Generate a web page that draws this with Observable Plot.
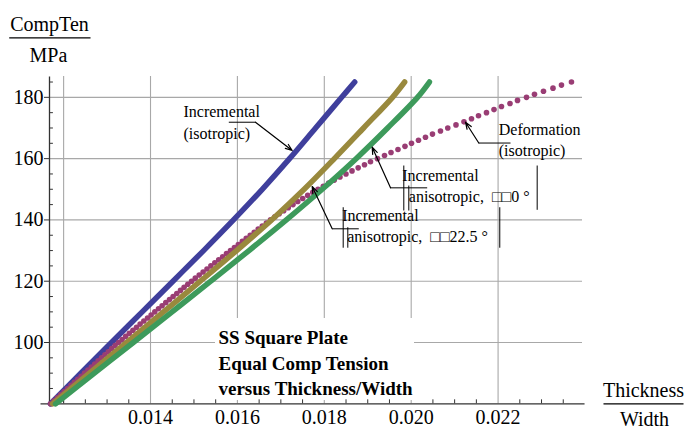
<!DOCTYPE html>
<html><head><meta charset="utf-8">
<script src="https://cdn.jsdelivr.net/npm/d3@7"></script>
<script src="https://cdn.jsdelivr.net/npm/@observablehq/plot@0.6"></script>
<style>body{margin:0;background:#fff} svg text{font-family:'Liberation Serif', serif;}</style>
</head><body><div id="chart"></div>
<script>
// ---- data ----
const compTenSteps = [80, 90, 100, 110, 120, 130, 140, 150, 160, 170, 180, 185];
const incIsoThick = [0.011698, 0.012396, 0.013101, 0.013809, 0.014517, 0.015222, 0.015910, 0.016572, 0.017200, 0.017800, 0.018400, 0.018700];
const incAniso22Thick = [0.011745, 0.012595, 0.013447, 0.014299, 0.015147, 0.015982, 0.016787, 0.017537, 0.018232, 0.018904, 0.019570, 0.019850];
const incAniso0Thick = [0.011814, 0.012709, 0.013604, 0.014497, 0.015387, 0.016267, 0.017127, 0.017952, 0.018732, 0.019457, 0.020145, 0.020420];

const defIsoComp = [80,81,82,83,84,85,86,87,88,89,90,91,92,93,94,95,96,97,98,99,100,101,102,103,104,105,106,107,108,109,110,111,112,113,114,115,116,117,118,119,120,121,122,123,124,125,126,127,128,129,130,131,132,133,134,135,136,137,138,139,140,141,142,143,144,145,146,147,148,149,150,151,152,153,154,155,156,157,158,159,160,161,162,163,164,165,166,167,168,169,170,171,172,173,174,175,176,177,178,179,180,181,182,183,184,185];
const defIsoThick = [
 0.011699,0.011777,0.011855,0.011933,0.012012,0.012090,0.012168,0.012246,0.012325,0.012403,
 0.012481,0.012559,0.012638,0.012716,0.012794,0.012872,0.012951,0.013029,0.013107,0.013185,
 0.013264,0.013346,0.013429,0.013512,0.013595,0.013678,0.013761,0.013846,0.013931,0.014014,
 0.014099,0.014184,0.014267,0.014352,0.014437,0.014520,0.014605,0.014690,0.014773,0.014858,
 0.014944,0.015031,0.015121,0.015211,0.015300,0.015390,0.015480,0.015570,0.015660,0.015749,
 0.015841,0.015931,0.016021,0.016113,0.016203,0.016295,0.016387,0.016479,0.016573,0.016667,
 0.016762,0.016861,0.016962,0.017066,0.017171,0.017280,0.017390,0.017503,0.017618,0.017735,
 0.017855,0.017977,0.018101,0.018230,0.018361,0.018499,0.018638,0.018780,0.018925,0.019063,
 0.019224,0.019386,0.019535,0.019696,0.019857,0.020007,0.020168,0.020329,0.020490,0.020674,
 0.020842,0.021031,0.021215,0.021388,0.021549,0.021733,0.021906,0.022078,0.022274,0.022447,
 0.022654,0.022838,0.023045,0.023264,0.023459,0.023689];

const xTicks = [0.014, 0.016, 0.018, 0.020, 0.022];
const xGrid = [0.012, 0.014, 0.016, 0.018, 0.020, 0.022];
const xMinor = [0.0120,0.0125,0.0130,0.0135,0.0145,0.0150,0.0155,0.0165,0.0170,0.0175,0.0185,0.0190,0.0195,0.0205,0.0210,0.0215,0.0225,0.0230,0.0235];
const yTicks = [100, 120, 140, 160, 180];
const yMinor = [85, 90, 95, 105, 110, 115, 125, 130, 135, 145, 150, 155, 165, 170, 175, 185];

const titleLines = ["SS Square Plate", "Equal Comp Tension", "versus Thickness/Width"];

// ---- build tables ----
const toRows = (ys, xs) => ys.map((c, i) => ({c, t: xs[i]}));
const blueRows = toRows(compTenSteps, incIsoThick);
const oliveRows = toRows(compTenSteps, incAniso22Thick);
const greenRows = toRows(compTenSteps, incAniso0Thick);
const pinkRows = toRows(defIsoComp, defIsoThick);

const xDomain = [0.011675, 0.023943];
const yDomain = [80, 186.8];

// annotation layout (data coordinates)
const labels = [
  {x: 0.014759, y: 173.51, s: "Incremental"},
  {x: 0.014759, y: 166.56, s: "(isotropic)"},
  {x: 0.022016, y: 167.86, s: "Deformation"},
  {x: 0.022016, y: 161.00, s: "(isotropic)"},
  {x: 0.019793, y: 152.85, s: "Incremental"},
  {x: 0.019945, y: 145.77, s: "anisotropic,  \u25A1\u25A10 \u00B0"},
  {x: 0.018412, y: 139.80, s: "Incremental"},
  {x: 0.018527, y: 132.72, s: "anisotropic,  \u25A1\u25A122.5 \u00B0"}
];
const leaders = [
  {x1: 0.015802, y1: 171.88, x2: 0.016416, y2: 171.88},
  {x1: 0.021556, y1: 165.09, x2: 0.022286, y2: 165.09},
  {x1: 0.019524, y1: 150.47, x2: 0.020368, y2: 150.47},
  {x1: 0.018182, y1: 137.10, x2: 0.018794, y2: 137.10},
  // glyph-box artefacts
  {x1: 0.019830, y1: 143.07, x2: 0.019830, y2: 157.75},
  {x1: 0.019945, y1: 143.07, x2: 0.019945, y2: 151.22},
  {x1: 0.022900, y1: 143.30, x2: 0.022900, y2: 157.75},
  {x1: 0.018435, y1: 130.93, x2: 0.018435, y2: 144.14},
  {x1: 0.018541, y1: 130.93, x2: 0.018541, y2: 137.62},
  {x1: 0.022039, y1: 130.93, x2: 0.022039, y2: 144.14}
];
const arrows = [
  {x1: 0.016416, y1: 171.88, x2: 0.017261, y2: 162.64},
  {x1: 0.021556, y1: 165.09, x2: 0.021250, y2: 171.88},
  {x1: 0.019524, y1: 150.47, x2: 0.019102, y2: 163.72},
  {x1: 0.018182, y1: 137.10, x2: 0.017721, y2: 150.90}
];
const titleBox = [{x1: 0.015496, x2: 0.020076, y1: 81.08, y2: 107.83}];
const titleRows = titleLines.map((s, i) => ({s, x: 0.015565, y: [99.67, 91.19, 83.03][i]}));
const axisLabels = [
  {s: "CompTen", x: 0.011675, y: 201.8},
  {s: "MPa", x: 0.011650, y: 191.45},
  {s: "Thickness", x: 0.025347, y: 82.3},
  {s: "Width", x: 0.025370, y: 72.6}
];
const fracBars = [
  {x1: 0.010748, x2: 0.012619, y1: 199.41, y2: 199.41},
  {x1: 0.024426, x2: 0.026268, y1: 80, y2: 80}
];
const axisLines = [
  {x1: 0.011468, x2: 0.023990, y1: 80, y2: 80},
  {x1: 0.011675, x2: 0.011675, y1: 79.6, y2: 186.8}
];

const serif = "Liberation Serif";

const chart = Plot.plot({
  width: 684, height: 430,
  marginLeft: 49, marginRight: 102, marginTop: 76, marginBottom: 26.7,
  x: {domain: xDomain},
  y: {domain: yDomain},
  style: {fontFamily: serif, fontSize: "20px", background: "white", color: "black", overflow: "visible"},
  marks: [
    Plot.gridX(xGrid, {stroke: "#a8a8a8", strokeOpacity: 1, strokeWidth: 1.1}),
    Plot.gridY(yTicks, {stroke: "#a8a8a8", strokeOpacity: 1, strokeWidth: 1.1}),
    Plot.rect(titleBox, {x1: "x1", x2: "x2", y1: "y1", y2: "y2", fill: "white"}),
    Plot.link(axisLines, {x1: "x1", x2: "x2", y1: "y1", y2: "y2", stroke: "#333", strokeWidth: 1.3}),
    Plot.ruleY(yMinor, {x1: xDomain[0], x2: xDomain[0] + 0.00009, stroke: "#333", strokeWidth: 1}),
    Plot.ruleX(xMinor, {y1: 80, y2: 81.3, stroke: "#333", strokeWidth: 1}),
    Plot.axisY({ticks: yTicks, tickSize: 5, tickPadding: 1, fontSize: 20, fontFamily: serif, label: null, tickFormat: d => String(d), stroke: "#333"}),
    Plot.axisX({ticks: xTicks, tickSize: 0, tickPadding: 6, fontSize: 20, fontFamily: serif, label: null, tickFormat: d3.format(".3f")}),
    // data
    Plot.line(blueRows, {x: "t", y: "c", stroke: "#3f3f9c", strokeWidth: 5.5, curve: "catmull-rom", strokeLinecap: "round"}),
    Plot.dot(pinkRows, {x: "t", y: "c", r: 2.8, fill: "#993d74", stroke: "none"}),
    Plot.line(oliveRows, {x: "t", y: "c", stroke: "#99893d", strokeWidth: 5.5, curve: "catmull-rom", strokeLinecap: "round"}),
    Plot.line(greenRows, {x: "t", y: "c", stroke: "#3d9a5b", strokeWidth: 5.5, curve: "catmull-rom", strokeLinecap: "round"}),
    // annotations
    Plot.link(leaders, {x1: "x1", x2: "x2", y1: "y1", y2: "y2", stroke: "black", strokeWidth: 1}),
    Plot.arrow(arrows, {x1: "x1", x2: "x2", y1: "y1", y2: "y2", stroke: "black", strokeWidth: 1.2, headLength: 9, headAngle: 40}),
    Plot.text(labels, {x: "x", y: "y", text: "s", textAnchor: "start", lineAnchor: "bottom", fontSize: 16, fontFamily: serif, fill: "black"}),
    Plot.text(titleRows, {x: "x", y: "y", text: "s", textAnchor: "start", lineAnchor: "bottom", fontSize: 19, fontWeight: "bold", fontFamily: serif, fill: "black"}),
    Plot.text(axisLabels, {x: "x", y: "y", text: "s", textAnchor: "middle", lineAnchor: "bottom", fontSize: 20, fontFamily: serif, fill: "black"}),
    Plot.link(fracBars, {x1: "x1", x2: "x2", y1: "y1", y2: "y2", stroke: "black", strokeWidth: 1.2})
  ]
});
document.getElementById("chart").appendChild(chart);
</script>
</body></html>
